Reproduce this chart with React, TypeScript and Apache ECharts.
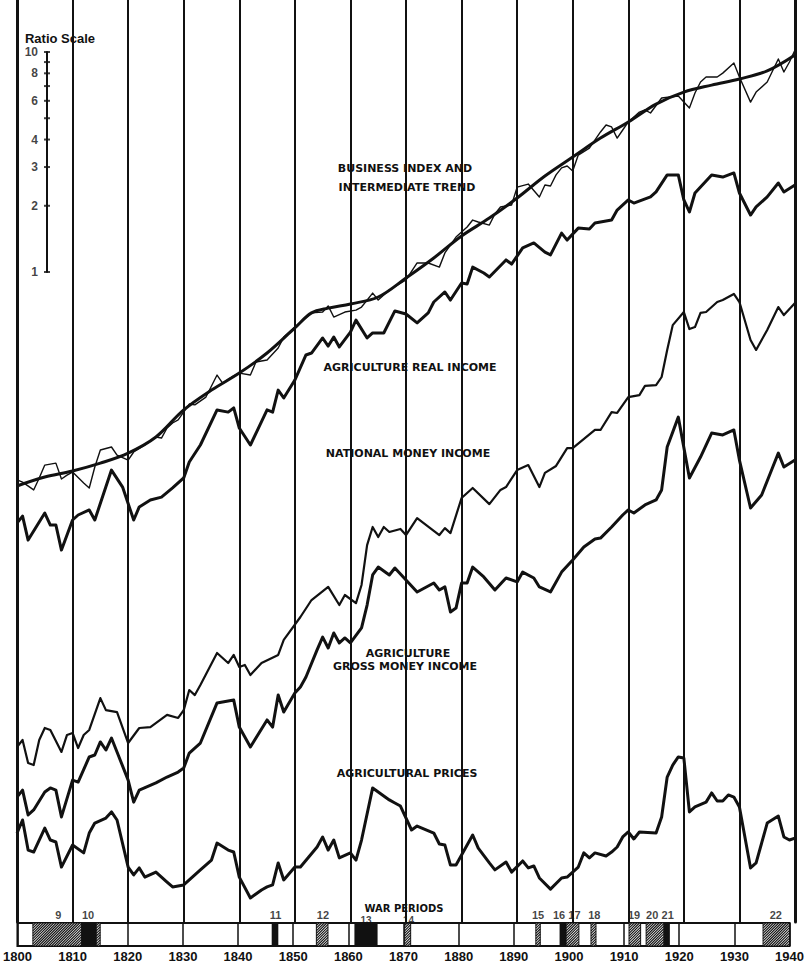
import React, { useEffect, useRef } from "react";
import * as echarts from "echarts";

// Ratio-scale series, stored as log10 (decades above the chart's base line), year by year vertices.
const businessIndex: [number, number][] = [
  [1800, 2.028], [1801, 2.018], [1803, 1.982], [1804, 2.037], [1805, 2.096], [1807, 2.105], [1808, 2.032],
  [1809, 2.05], [1810, 2.064], [1812, 2.014], [1813, 1.991], [1814, 2.087], [1815, 2.165], [1817, 2.179],
  [1818, 2.142], [1820, 2.119], [1821, 2.156], [1823, 2.188], [1825, 2.225], [1826, 2.22], [1827, 2.266],
  [1828, 2.289], [1829, 2.303], [1831, 2.376], [1832, 2.372], [1834, 2.408], [1836, 2.509], [1837, 2.472],
  [1839, 2.505], [1840, 2.518], [1842, 2.509], [1843, 2.569], [1845, 2.578], [1847, 2.633], [1848, 2.683],
  [1850, 2.729], [1853, 2.794], [1855, 2.798], [1856, 2.826], [1857, 2.775], [1859, 2.798], [1861, 2.807],
  [1862, 2.821], [1864, 2.885], [1865, 2.853], [1867, 2.899], [1870, 2.945], [1872, 3.023], [1874, 3.023],
  [1876, 3.004], [1877, 3.069], [1879, 3.142], [1881, 3.188], [1882, 3.22], [1883, 3.211], [1885, 3.197],
  [1886, 3.248], [1887, 3.28], [1889, 3.289], [1890, 3.371], [1892, 3.385], [1894, 3.326], [1895, 3.381],
  [1896, 3.376], [1897, 3.427], [1898, 3.459], [1899, 3.468], [1900, 3.445], [1901, 3.518], [1903, 3.55],
  [1905, 3.624], [1906, 3.656], [1907, 3.647], [1908, 3.596], [1909, 3.633], [1910, 3.67], [1912, 3.715],
  [1913, 3.725], [1914, 3.711], [1916, 3.78], [1919, 3.789], [1921, 3.734], [1922, 3.803], [1923, 3.853],
  [1924, 3.876], [1926, 3.876], [1927, 3.894], [1929, 3.94], [1930, 3.876], [1932, 3.761], [1933, 3.807],
  [1935, 3.853], [1937, 3.959], [1938, 3.899], [1939, 3.945], [1940, 4.0],
];

const intermediateTrend: [number, number][] = [
  [1800, 2.0], [1805, 2.041], [1810, 2.069], [1815, 2.105], [1820, 2.151], [1825, 2.225], [1830, 2.349],
  [1835, 2.44], [1840, 2.518], [1845, 2.61], [1850, 2.725], [1853, 2.794], [1856, 2.816], [1860, 2.835],
  [1865, 2.867], [1870, 2.954], [1875, 3.046], [1880, 3.147], [1885, 3.229], [1890, 3.321], [1895, 3.422],
  [1900, 3.509], [1905, 3.596], [1910, 3.67], [1915, 3.752], [1920, 3.807], [1925, 3.839], [1930, 3.867],
  [1935, 3.904], [1940, 3.977],
];

const agricultureRealIncome: [number, number][] = [
  [1800, 1.83], [1801, 1.862], [1802, 1.752], [1805, 1.876], [1806, 1.821], [1807, 1.821], [1808, 1.706],
  [1810, 1.844], [1811, 1.867], [1813, 1.89], [1814, 1.844], [1817, 2.073], [1819, 1.995], [1821, 1.844],
  [1822, 1.904], [1824, 1.936], [1826, 1.949], [1828, 1.991], [1830, 2.037], [1831, 2.11], [1833, 2.188],
  [1836, 2.349], [1838, 2.339], [1839, 2.358], [1840, 2.266], [1842, 2.188], [1845, 2.349], [1846, 2.339],
  [1847, 2.44], [1848, 2.404], [1850, 2.486], [1852, 2.601], [1853, 2.61], [1855, 2.679], [1856, 2.642],
  [1857, 2.683], [1858, 2.638], [1860, 2.706], [1861, 2.761], [1863, 2.679], [1864, 2.702], [1866, 2.702],
  [1868, 2.803], [1870, 2.789], [1872, 2.748], [1874, 2.794], [1875, 2.844], [1877, 2.89], [1878, 2.853],
  [1880, 2.931], [1881, 2.927], [1882, 3.004], [1884, 2.977], [1885, 2.959], [1888, 3.037], [1889, 3.018],
  [1891, 3.092], [1893, 3.115], [1895, 3.073], [1896, 3.06], [1898, 3.16], [1899, 3.128], [1901, 3.183],
  [1903, 3.179], [1904, 3.206], [1907, 3.22], [1908, 3.266], [1910, 3.312], [1911, 3.298], [1914, 3.326],
  [1915, 3.349], [1917, 3.427], [1919, 3.427], [1920, 3.312], [1921, 3.257], [1922, 3.344], [1925, 3.427],
  [1927, 3.417], [1929, 3.436], [1930, 3.344], [1932, 3.243], [1933, 3.28], [1935, 3.326], [1937, 3.39],
  [1938, 3.349], [1940, 3.381],
];

const nationalMoneyIncome: [number, number][] = [
  [1800, 0.803], [1801, 0.835], [1802, 0.729], [1803, 0.72], [1804, 0.835], [1805, 0.89], [1806, 0.881],
  [1808, 0.78], [1809, 0.858], [1810, 0.867], [1811, 0.798], [1812, 0.858], [1813, 0.881], [1815, 1.027],
  [1816, 0.972], [1818, 0.963], [1820, 0.821], [1822, 0.89], [1824, 0.894], [1827, 0.95], [1829, 0.936],
  [1830, 0.972], [1831, 1.064], [1832, 1.041], [1833, 1.087], [1836, 1.234], [1838, 1.188], [1839, 1.225],
  [1840, 1.17], [1841, 1.179], [1842, 1.133], [1844, 1.188], [1847, 1.225], [1848, 1.294], [1851, 1.399],
  [1853, 1.477], [1856, 1.537], [1858, 1.454], [1859, 1.5], [1861, 1.463], [1862, 1.546], [1863, 1.729],
  [1864, 1.812], [1865, 1.766], [1866, 1.812], [1867, 1.789], [1869, 1.803], [1870, 1.775], [1872, 1.853],
  [1876, 1.775], [1877, 1.807], [1878, 1.784], [1880, 1.945], [1882, 1.991], [1885, 1.917], [1887, 1.982],
  [1888, 1.995], [1890, 2.073], [1892, 2.096], [1894, 1.995], [1895, 2.06], [1897, 2.092], [1899, 2.174],
  [1900, 2.174], [1904, 2.257], [1905, 2.257], [1907, 2.339], [1908, 2.335], [1910, 2.408], [1912, 2.417],
  [1913, 2.459], [1915, 2.463], [1916, 2.5], [1917, 2.624], [1918, 2.738], [1920, 2.798], [1921, 2.72],
  [1922, 2.729], [1923, 2.794], [1924, 2.798], [1926, 2.844], [1927, 2.853], [1929, 2.881], [1930, 2.844],
  [1932, 2.67], [1933, 2.624], [1935, 2.716], [1937, 2.821], [1938, 2.784], [1940, 2.839],
];

const agricultureGrossMoneyIncome: [number, number][] = [
  [1800, 0.573], [1801, 0.605], [1802, 0.491], [1803, 0.514], [1805, 0.596], [1806, 0.615], [1807, 0.605],
  [1808, 0.482], [1810, 0.651], [1811, 0.642], [1813, 0.757], [1814, 0.766], [1815, 0.826], [1816, 0.789],
  [1817, 0.844], [1818, 0.78], [1820, 0.651], [1821, 0.55], [1822, 0.605], [1825, 0.638], [1827, 0.665],
  [1829, 0.688], [1830, 0.706], [1831, 0.775], [1833, 0.821], [1836, 1.005], [1837, 1.009], [1839, 1.018],
  [1840, 0.894], [1842, 0.803], [1845, 0.927], [1846, 0.894], [1847, 1.041], [1848, 0.963], [1850, 1.05],
  [1851, 1.078], [1852, 1.124], [1854, 1.248], [1855, 1.307], [1856, 1.257], [1857, 1.326], [1858, 1.28],
  [1859, 1.303], [1860, 1.28], [1862, 1.349], [1863, 1.454], [1864, 1.592], [1865, 1.628], [1867, 1.592],
  [1868, 1.624], [1870, 1.569], [1872, 1.514], [1875, 1.555], [1876, 1.523], [1877, 1.537], [1878, 1.422],
  [1879, 1.44], [1880, 1.555], [1881, 1.555], [1882, 1.628], [1884, 1.583], [1886, 1.523], [1888, 1.578],
  [1890, 1.56], [1891, 1.605], [1893, 1.578], [1894, 1.537], [1896, 1.514], [1898, 1.605], [1900, 1.661],
  [1902, 1.72], [1904, 1.757], [1905, 1.761], [1907, 1.812], [1909, 1.867], [1910, 1.89], [1911, 1.876],
  [1913, 1.913], [1915, 1.936], [1916, 1.982], [1917, 2.179], [1919, 2.316], [1921, 2.037], [1923, 2.133],
  [1925, 2.243], [1927, 2.234], [1929, 2.257], [1930, 2.119], [1932, 1.899], [1934, 1.959], [1936, 2.087],
  [1937, 2.151], [1938, 2.087], [1940, 2.119],
];

const agriculturalPrices: [number, number][] = [
  [1800, 0.408], [1801, 0.468], [1802, 0.33], [1803, 0.321], [1805, 0.431], [1806, 0.376], [1807, 0.367],
  [1808, 0.252], [1810, 0.353], [1812, 0.317], [1813, 0.408], [1814, 0.454], [1816, 0.477], [1817, 0.505],
  [1818, 0.468], [1820, 0.252], [1821, 0.216], [1822, 0.248], [1823, 0.206], [1825, 0.229], [1827, 0.183],
  [1828, 0.161], [1830, 0.17], [1831, 0.193], [1833, 0.239], [1835, 0.284], [1836, 0.362], [1838, 0.33],
  [1839, 0.321], [1840, 0.206], [1842, 0.11], [1844, 0.147], [1845, 0.161], [1846, 0.17], [1847, 0.271],
  [1848, 0.193], [1850, 0.252], [1851, 0.252], [1854, 0.344], [1855, 0.39], [1856, 0.33], [1857, 0.376],
  [1858, 0.294], [1860, 0.317], [1861, 0.284], [1862, 0.376], [1864, 0.615], [1867, 0.56], [1868, 0.546],
  [1869, 0.532], [1871, 0.422], [1872, 0.44], [1875, 0.408], [1876, 0.358], [1877, 0.353], [1878, 0.261],
  [1879, 0.261], [1882, 0.399], [1883, 0.339], [1885, 0.271], [1886, 0.239], [1888, 0.275], [1889, 0.229],
  [1891, 0.28], [1892, 0.248], [1893, 0.257], [1894, 0.202], [1896, 0.151], [1898, 0.202], [1899, 0.206],
  [1901, 0.252], [1902, 0.317], [1903, 0.294], [1904, 0.317], [1906, 0.303], [1907, 0.321], [1908, 0.344],
  [1909, 0.39], [1910, 0.413], [1911, 0.381], [1912, 0.413], [1915, 0.408], [1916, 0.482], [1917, 0.665],
  [1918, 0.72], [1919, 0.757], [1920, 0.752], [1921, 0.505], [1922, 0.528], [1924, 0.55], [1925, 0.592],
  [1926, 0.555], [1927, 0.555], [1928, 0.583], [1929, 0.573], [1930, 0.528], [1932, 0.248], [1933, 0.271],
  [1935, 0.454], [1937, 0.486], [1938, 0.39], [1939, 0.376], [1940, 0.385],
];

// War periods: [start year, end year, kind] kind 0 = hatched, 1 = solid
const warPeriods: [number, number, number][] = [
  [1802.8, 1811.6, 0], [1811.6, 1814.3, 1], [1814.3, 1815.0, 0], [1846.1, 1847.3, 1], [1854.2, 1856.3, 0],
  [1861.1, 1865.3, 1], [1870.2, 1871.3, 0], [1894.0, 1894.8, 0], [1898.3, 1899.5, 1], [1899.5, 1901.8, 0],
  [1904.0, 1904.9, 0], [1910.9, 1913.0, 0], [1914.0, 1917.2, 0], [1917.2, 1918.3, 1], [1935.2, 1940.0, 0],
];
const warLabels: [string, number][] = [
  ["9", 1807.4], ["10", 1812.8], ["11", 1846.8], ["12", 1855.4], ["13", 1863.2], ["14", 1870.9],
  ["15", 1894.4], ["16", 1898.2], ["17", 1901.0], ["18", 1904.6], ["19", 1911.8], ["20", 1915.1],
  ["21", 1917.9], ["22", 1937.5],
];

const ratioTicks = [1, 2, 3, 4, 5, 6, 7, 8, 9, 10];
const ratioLabels = [1, 2, 3, 4, 6, 8, 10];

const INK = "#111";
const DECADES_SHOWN = 922 / 218;

export default function App() {
  const ref = useRef<HTMLDivElement>(null);
  useEffect(() => {
    if (!ref.current) return;
    const chart = echarts.init(ref.current, null, { renderer: "svg" });
    const lineSeries = (data: [number, number][], width: number, smooth: any = false) => ({
      type: "line",
      xAxisIndex: 0,
      yAxisIndex: 0,
      data,
      smooth,
      symbol: "none",
      showSymbol: false,
      lineStyle: { color: INK, width, join: "round" },
      z: 5,
    });
    const annot = (text: string, x: number, y: number, size = 11) => ({
      type: "text",
      x,
      y,
      z: 10,
      style: {
        text,
        fill: INK,
        font: `bold ${size}px "DejaVu Sans"`,
        textAlign: "center",
        textVerticalAlign: "middle",
      },
    });
    const option: any = {
      animation: false,
      backgroundColor: "#fff",
      grid: [
        { left: 17, right: 12, top: 0, bottom: 43 },
        { left: 17, right: 12, top: 923, height: 23, show: true, borderColor: INK, borderWidth: 2 },
        { left: 47, top: 52, width: 10, height: 220 },
      ],
      xAxis: [
        {
          gridIndex: 0, type: "value", min: 1800, max: 1940, interval: 10,
          axisLine: { show: false }, axisTick: { show: false }, axisLabel: { show: false },
          splitLine: { show: true, lineStyle: { color: INK, width: 2 } },
        },
        {
          gridIndex: 1, type: "value", min: 1800, max: 1940, interval: 10,
          axisLine: { show: false }, axisTick: { show: false },
          axisLabel: {
            show: true, color: INK, fontFamily: "Liberation Sans", fontWeight: "bold", fontSize: 13,
            margin: 4, showMinLabel: true, showMaxLabel: true, formatter: (v: number) => String(v),
          },
          splitLine: { show: true, lineStyle: { color: INK, width: 1.5 } },
        },
        { gridIndex: 2, type: "value", min: 0, max: 1, show: false },
      ],
      yAxis: [
        {
          gridIndex: 0, type: "value", min: 0, max: DECADES_SHOWN,
          axisLine: { show: true, onZero: false, lineStyle: { color: INK, width: 3 } },
          axisTick: { show: false }, axisLabel: { show: false }, splitLine: { show: false },
        },
        {
          gridIndex: 0, type: "value", position: "right", min: 0, max: DECADES_SHOWN,
          axisLine: { show: true, onZero: false, lineStyle: { color: INK, width: 3 } },
          axisTick: { show: false }, axisLabel: { show: false }, splitLine: { show: false },
        },
        { gridIndex: 1, type: "value", min: 0, max: 1, show: false },
        {
          gridIndex: 2, type: "log", logBase: 10, min: 1, max: 10,
          axisLine: { show: true, onZero: false, lineStyle: { color: INK, width: 2 } },
          axisTick: { show: false }, axisLabel: { show: false }, splitLine: { show: false },
        },
      ],
      series: [
        lineSeries(businessIndex, 1.4),
        lineSeries(intermediateTrend, 3, 0.35),
        lineSeries(agricultureRealIncome, 3),
        lineSeries(nationalMoneyIncome, 2.2),
        lineSeries(agricultureGrossMoneyIncome, 3),
        lineSeries(agriculturalPrices, 3),
        {
          type: "custom",
          xAxisIndex: 1,
          yAxisIndex: 2,
          data: warPeriods,
          z: 4,
          renderItem: (_params: any, api: any) => {
            const start = api.value(0);
            const end = api.value(1);
            const kind = api.value(2);
            const tl = api.coord([start, 1]);
            const br = api.coord([end, 0]);
            const x0 = tl[0], y0 = tl[1], x1 = br[0], y1 = br[1];
            const shape = { x: x0, y: y0, width: x1 - x0, height: y1 - y0 };
            if (kind === 1) {
              return { type: "rect", shape, style: { fill: INK } };
            }
            const h = y1 - y0;
            const children: any[] = [
              { type: "rect", shape, style: { fill: "#fff", stroke: INK, lineWidth: 1 } },
            ];
            for (let xb = x0 - h; xb < x1; xb += 2.6) {
              let sx = xb, sy = y1, ex = xb + h, ey = y0;
              if (sx < x0) { sy = y1 - (x0 - sx); sx = x0; }
              if (ex > x1) { ey = y0 + (ex - x1); ex = x1; }
              if (ex <= sx) continue;
              children.push({ type: "line", shape: { x1: sx, y1: sy, x2: ex, y2: ey }, style: { stroke: INK, lineWidth: 1.1 } });
            }
            return { type: "group", children };
          },
        },
        {
          type: "scatter",
          xAxisIndex: 1,
          yAxisIndex: 2,
          symbolSize: 0,
          z: 6,
          data: warLabels.map(([name, year]) => ({
            name,
            value: [year, 1],
            label: name === "13" || name === "14" ? { distance: -2, fontSize: 10 } : undefined,
          })),
          label: {
            show: true, position: "top", distance: 3, formatter: "{b}", color: INK,
            fontFamily: "Liberation Sans", fontWeight: "bold", fontSize: 11,
          },
          silent: true,
        },
        {
          type: "scatter",
          xAxisIndex: 2,
          yAxisIndex: 3,
          symbol: "rect",
          symbolSize: [6, 2],
          itemStyle: { color: INK },
          z: 6,
          data: ratioTicks.map((v) => ({
            value: [0, v],
            label: { show: ratioLabels.includes(v) },
          })),
          label: {
            position: "left", distance: 6, color: INK, fontFamily: "Liberation Sans", fontWeight: "bold",
            fontSize: 12, formatter: (p: any) => String(p.value[1]),
          },
          silent: true,
        },
      ],
      graphic: [
        {
          type: "text", x: 60, y: 38, z: 10,
          style: { text: "Ratio Scale", fill: INK, font: 'bold 13px "Liberation Sans"', textAlign: "center", textVerticalAlign: "middle" },
        },
        annot("BUSINESS INDEX AND", 405, 168),
        annot("INTERMEDIATE TREND", 407, 187),
        annot("AGRICULTURE REAL INCOME", 410, 367),
        annot("NATIONAL MONEY INCOME", 408, 453),
        annot("AGRICULTURE", 408, 653),
        annot("GROSS MONEY INCOME", 405, 666),
        annot("AGRICULTURAL PRICES", 407, 773),
        annot("WAR PERIODS", 404, 908, 10),
      ],
    };
    chart.setOption(option);
    return () => chart.dispose();
  }, []);
  return (
    <div
      ref={ref}
      style={{ position: "fixed", left: 0, top: 0, width: 807, height: 965, background: "#fff" }}
    />
  );
}
